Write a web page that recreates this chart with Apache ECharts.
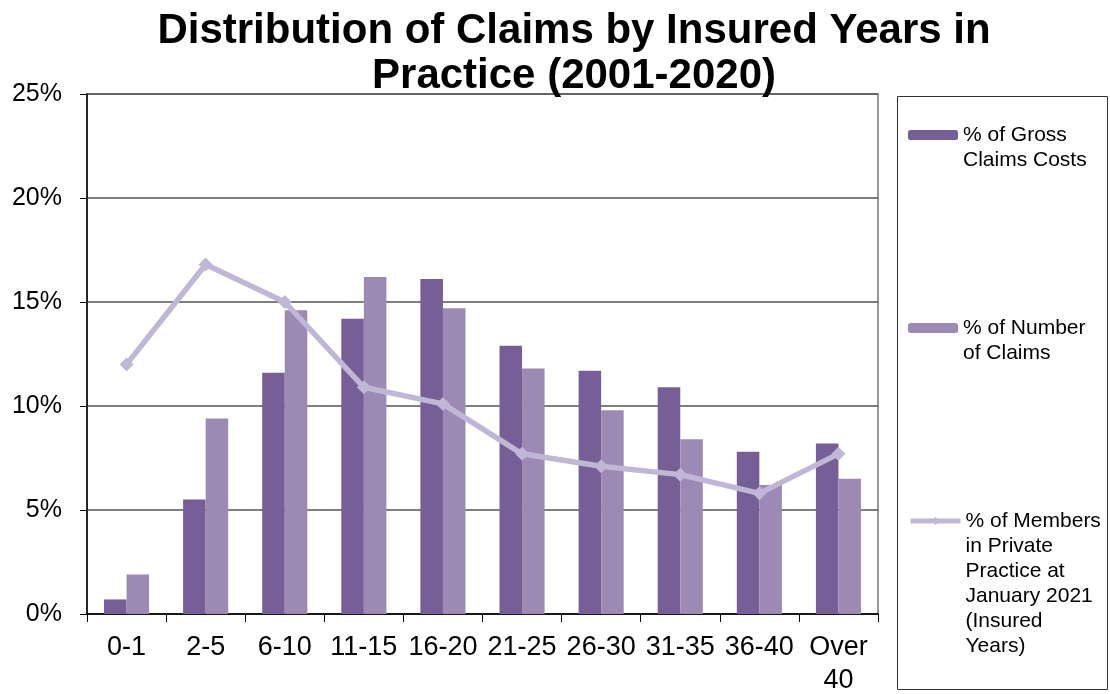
<!DOCTYPE html>
<html>
<head>
<meta charset="utf-8">
<script src="https://cdn.jsdelivr.net/npm/echarts@6/dist/echarts.min.js"></script>
<style>
html, body { margin: 0; padding: 0; background: #fff; }
#chart { width: 1110px; height: 694px; }
</style>
</head>
<body>
<div id="chart"></div>
<script>
var categories = ['0-1', '2-5', '6-10', '11-15', '16-20', '21-25', '26-30', '31-35', '36-40', 'Over\n40'];
var grossClaimsCosts = [0.7, 5.5, 11.6, 14.2, 16.1, 12.9, 11.7, 10.9, 7.8, 8.2];
var numberOfClaims = [1.9, 9.4, 14.6, 16.2, 14.7, 11.8, 9.8, 8.4, 6.2, 6.5];
var membersInPractice = [12.0, 16.8, 15.0, 10.9, 10.1, 7.7, 7.1, 6.7, 5.8, 7.7];

var seriesNames = [
    '% of Gross\nClaims Costs',
    '% of Number\nof Claims',
    '% of Members\nin Private\nPractice at\nJanuary 2021\n(Insured\nYears)'
];
var colors = ['#765e97', '#9c8ab5', '#c0b7d6'];
var font = 'Liberation Sans, Arial, sans-serif';
var lh = 25;

// one legend per item so the icon sits next to the first text line
function legendAt(name, lines, iconY) {
    var pad = new Array(lines).join('\n');
    return {
        data: [name],
        left: 908,
        top: iconY - (2 * lines - 1) * lh / 2,
        padding: 0,
        itemWidth: 50,
        itemHeight: 10,
        itemGap: 0,
        lineStyle: { width: 5 },
        formatter: function (n) { return pad + n; },
        textStyle: {
            fontFamily: font,
            fontSize: 21,
            color: '#000',
            lineHeight: lh
        }
    };
}

var chart = echarts.init(document.getElementById('chart'));
var option = {
    animation: false,
    title: {
        text: 'Distribution of Claims by Insured Years in\nPractice (2001-2020)',
        left: 569,
        textAlign: 'center',
        top: 4,
        textStyle: {
            fontFamily: font,
            fontSize: 42,
            fontWeight: 'bold',
            color: '#000',
            lineHeight: 45
        }
    },
    legend: [
        legendAt(seriesNames[0], 2, 135),
        legendAt(seriesNames[1], 2, 328),
        legendAt(seriesNames[2], 6, 521)
    ],
    graphic: [{
        type: 'rect',
        shape: { x: 897.5, y: 96.5, width: 210, height: 593 },
        style: { fill: 'none', stroke: '#333', lineWidth: 1 }
    }],
    grid: {
        left: 87,
        right: 232,
        top: 94,
        bottom: 80,
        outerBoundsMode: 'none',
        show: true,
        borderColor: '#777',
        borderWidth: 1.5
    },
    xAxis: {
        type: 'category',
        data: categories,
        axisLine: { lineStyle: { color: '#000', width: 1.5 } },
        axisTick: { show: true, length: 8, lineStyle: { color: '#000' } },
        axisLabel: {
            fontFamily: font,
            fontSize: 27,
            color: '#000',
            margin: 17,
            lineHeight: 33,
            interval: 0
        }
    },
    yAxis: {
        type: 'value',
        min: 0,
        max: 25,
        interval: 5,
        axisLine: { show: true, lineStyle: { color: '#000', width: 1.5 } },
        axisTick: { show: true, length: 7, lineStyle: { color: '#000' } },
        axisLabel: {
            formatter: '{value}%',
            fontFamily: font,
            fontSize: 25,
            color: '#000',
            margin: 25
        },
        splitLine: { lineStyle: { color: '#555', width: 1.5 } }
    },
    series: [
        {
            name: seriesNames[0],
            type: 'bar',
            data: grossClaimsCosts,
            barGap: '0%',
            barCategoryGap: '43%',
            itemStyle: { color: colors[0] }
        },
        {
            name: seriesNames[1],
            type: 'bar',
            data: numberOfClaims,
            itemStyle: { color: colors[1] }
        },
        {
            name: seriesNames[2],
            type: 'line',
            data: membersInPractice,
            symbol: 'diamond',
            symbolSize: 14,
            z: 5,
            lineStyle: { color: colors[2], width: 5.5 },
            itemStyle: { color: colors[2] }
        }
    ]
};
chart.setOption(option);
</script>
</body>
</html>
